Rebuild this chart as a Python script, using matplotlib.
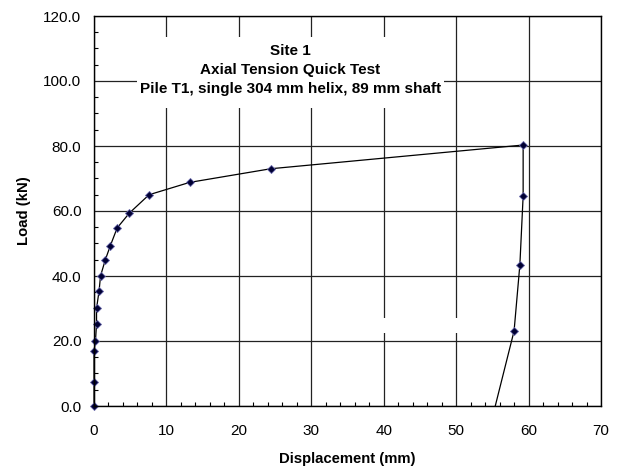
import matplotlib
matplotlib.use("Agg")
import matplotlib.pyplot as plt
from matplotlib.ticker import MultipleLocator, FormatStrFormatter
from matplotlib.patches import Rectangle

plt.rcParams['font.family'] = ['Liberation Sans', 'DejaVu Sans']

# load test readings (loading then unloading)
displacement = [0, 0, 0, 0.2, 0.35, 0.35, 0.7, 0.9, 1.55, 2.25, 3.2, 4.9, 7.6,
                13.2, 24.4, 59.25, 59.25, 58.8, 58.0, 55.4]
load = [0, 7.5, 16.9, 19.9, 25.2, 30.0, 35.4, 40.0, 44.9, 49.3, 54.8, 59.4, 65.0,
        68.8, 73.0, 80.3, 64.6, 43.5, 23.1, 0]

title_lines = ["Site 1", "Axial Tension Quick Test",
               "Pile T1, single 304 mm helix, 89 mm shaft"]

fig = plt.figure(figsize=(6.19, 4.69), dpi=100)
ax = fig.add_axes([94 / 619, 1 - 406 / 469, (601 - 94) / 619, (406 - 16) / 469])

ax.set_xlim(0, 70)
ax.set_ylim(0, 120)
ax.xaxis.set_major_locator(MultipleLocator(10))
ax.xaxis.set_minor_locator(MultipleLocator(2))
ax.yaxis.set_major_locator(MultipleLocator(20))
ax.yaxis.set_minor_locator(MultipleLocator(5))
ax.yaxis.set_major_formatter(FormatStrFormatter('%.1f'))

ax.set_axisbelow(True)
ax.grid(True, which='major', color='#222222', linewidth=0.9)
ax.tick_params(which='both', direction='in', labelsize=11, color='black')
ax.tick_params(which='major', length=0)
ax.tick_params(axis='x', which='major', pad=13)
ax.tick_params(axis='y', which='major', pad=9)
ax.tick_params(which='minor', length=3, width=0.8)
for s in ax.spines.values():
    s.set_linewidth(1.0)
    s.set_color('black')
    s.set_zorder(5)

# white boxes hiding the grid (title box and an empty text box)
px_x = 507 / 70
px_y = 390 / 120
ax.add_patch(Rectangle(((137 - 94) / px_x, (406 - 108) / px_y), (444 - 137) / px_x,
                       (108 - 37) / px_y, facecolor='white', edgecolor='none', zorder=1))
ax.add_patch(Rectangle(((365 - 94) / px_x, (406 - 333) / px_y), (470 - 365) / px_x,
                       (333 - 318) / px_y, facecolor='white', edgecolor='none', zorder=1))

ax.plot(displacement, load, color='black', linewidth=0.9, marker='D', markersize=4,
        markerfacecolor='#000033', markeredgecolor='#6666aa', markeredgewidth=0.6,
        markevery=list(range(len(load) - 1)), zorder=3, clip_on=False)

ax.text(27.1, 111.3, "\n".join(title_lines), ha='center', va='top', fontsize=11,
        fontweight='bold', linespacing=1.42, zorder=4)

ax.set_xlabel("Displacement (mm)", fontsize=10.7, fontweight='bold', labelpad=10)
ax.set_ylabel("Load (kN)", fontsize=10.7, fontweight='bold', labelpad=9)

fig.savefig("out.png", dpi=100)
